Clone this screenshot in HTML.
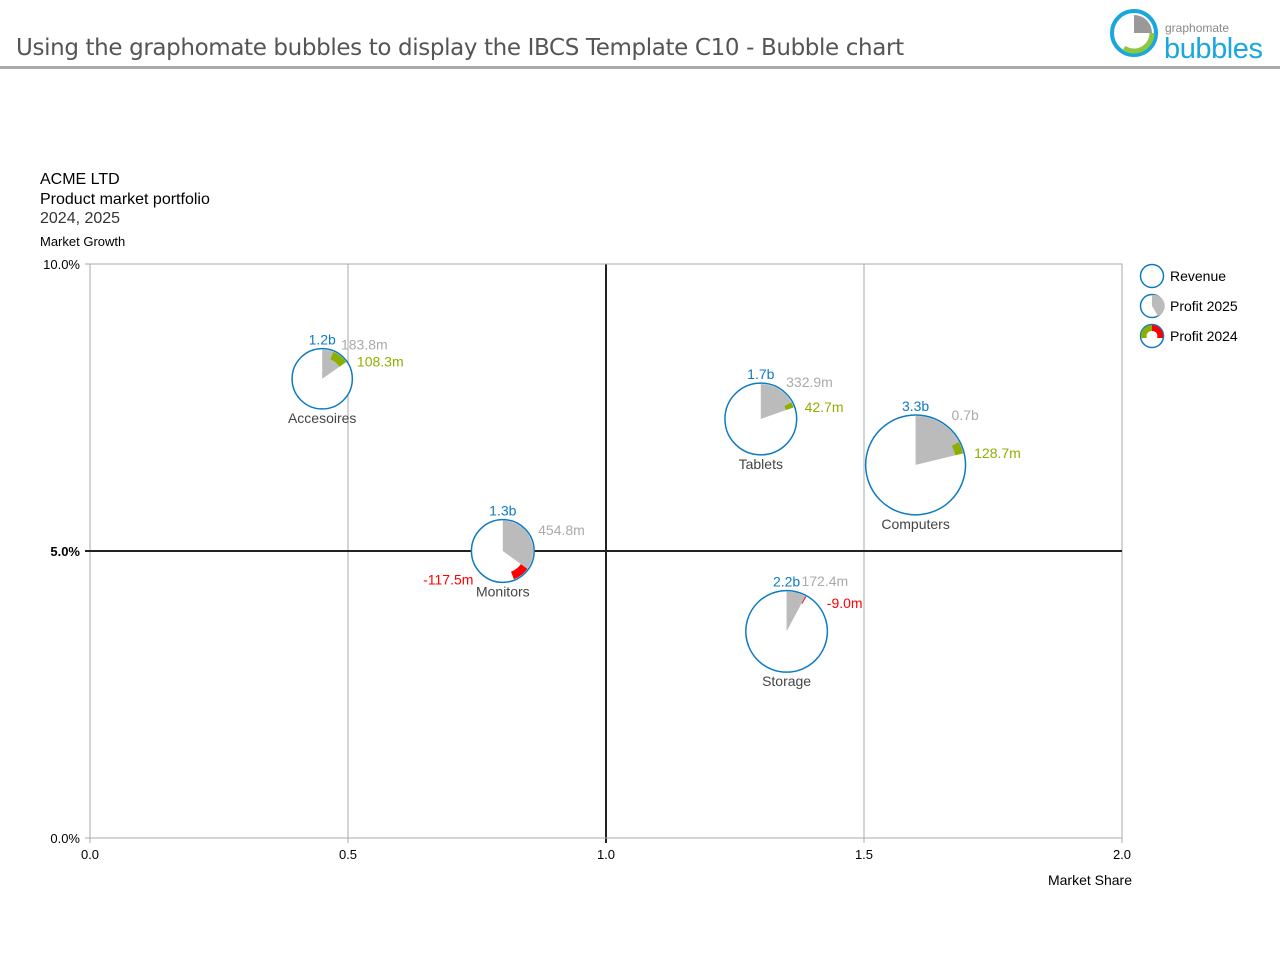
<!DOCTYPE html>
<html><head><meta charset="utf-8"><style>
body{margin:0;background:#fff;width:1280px;height:960px;overflow:hidden;font-family:"Liberation Sans",sans-serif}
svg text{font-family:"Liberation Sans",sans-serif}
</style></head><body>
<svg id="chart" width="1280" height="960" xmlns="http://www.w3.org/2000/svg">
<g>
<text x="16" y="55" font-size="23" fill="#555" letter-spacing="0.9" style="font-family:'DejaVu Sans',sans-serif" textLength="889">Using the graphomate bubbles to display the IBCS Template C10 - Bubble chart</text>
<rect x="0" y="66" width="1280" height="3" fill="#aaa"/>
<g>
<circle cx="1134" cy="33" r="22" fill="none" stroke="#1aa7de" stroke-width="4"/>
<path d="M1134,33 L1134,15 A18,18 0 0 1 1152,33 Z" fill="#999"/>
<path d="M1152,33 A18,18 0 0 1 1124,48" fill="none" stroke="#8dc63f" stroke-width="5"/>
<text x="1165" y="32" font-size="12" fill="#888">graphomate</text>
<text x="1164" y="58" font-size="29" fill="#1aa7de" textLength="99">bubbles</text>
</g>
</g>
<g>
<text x="40" y="184" font-size="16" fill="#000">ACME LTD</text>
<text x="40" y="204" font-size="16" fill="#000">Product market portfolio</text>
<text x="40" y="223" font-size="16" fill="#333">2024, 2025</text>
<text x="40" y="246" font-size="13" fill="#000">Market Growth</text>
<text x="1132" y="885" font-size="14" fill="#000" text-anchor="end">Market Share</text>
</g>
<g id="grid"></g>
<g id="bubbles"></g>
<g>
<g><circle cx="1152" cy="276" r="11.5" fill="#fff" stroke="#0d7bc4" stroke-width="1.5"/><text x="1170" y="281" font-size="14" fill="#000">Revenue</text></g>
<g><circle cx="1152" cy="306" r="11.5" fill="#fff" stroke="#0d7bc4" stroke-width="1.5"/><path d="M1152,306 L1152,295 A11,11 0 0 1 1158,316 Z" fill="#bbb"/><text x="1170" y="311" font-size="14" fill="#000">Profit 2025</text></g>
<g><circle cx="1152" cy="336" r="11.5" fill="#fff" stroke="#0d7bc4" stroke-width="1.5"/><path d="M1152,325 A11,11 0 0 1 1163,338 L1157,338 A5,5 0 0 0 1152,331 Z" fill="#f00"/><path d="M1152,325 A11,11 0 0 0 1141,338 L1147,338 A5,5 0 0 1 1152,331 Z" fill="#8db000"/><text x="1170" y="341" font-size="14" fill="#000">Profit 2024</text></g>
</g>
</svg>
<script>
const categories=["Accesoires","Monitors","Tablets","Computers","Storage"];
const marketShare=[0.45,0.80,1.30,1.60,1.35];
const marketGrowth=[8.0,5.0,7.3,6.5,3.6];
const revenue=[1.2,1.3,1.7,3.3,2.2]; // billions
const profit2025=[183.8,454.8,332.9,700,172.4]; // millions
const profit2024=[108.3,-117.5,42.7,128.7,-9.0];
const revenueLabels=["1.2b","1.3b","1.7b","3.3b","2.2b"];
const profit2025Labels=["183.8m","454.8m","332.9m","0.7b","172.4m"];
const profit2024Labels=["108.3m","-117.5m","42.7m","128.7m","-9.0m"];
const xTicks=[0,0.5,1.0,1.5,2.0];
const xTickLabels=["0.0","0.5","1.0","1.5","2.0"];
const yTicks=[0,5,10];
const yTickLabels=["0.0%","5.0%","10.0%"];

const NS="http://www.w3.org/2000/svg";
const X0=90,X1=1122,Y0=838,Y1=264;
const xs=v=>X0+(v-0)/(2-0)*(X1-X0);
const ys=v=>Y0-(v-0)/(10-0)*(Y0-Y1);
const rs=v=>27.5*Math.sqrt(v);
function mk(tag,attrs,parent){const e=document.createElementNS(NS,tag);for(const k in attrs)e.setAttribute(k,attrs[k]);parent.appendChild(e);return e;}
const grid=document.getElementById('grid');
const bub=document.getElementById('bubbles');
mk('rect',{x:X0,y:Y1,width:X1-X0,height:Y0-Y1,fill:'none',stroke:'#aaa','stroke-width':1},grid);
xTicks.forEach((t,i)=>{
  const x=xs(t);
  const l=mk('line',{x1:x,x2:x,y1:Y1,y2:Y0+5,stroke:t===1?'#222':'#aaa','stroke-width':t===1?2:1},grid);
  
  
  const tx=mk('text',{x:x,y:Y0+21,'font-size':13,'text-anchor':'middle',fill:'#000'},grid);
  tx.textContent=xTickLabels[i];
  
  
});
yTicks.forEach((t,i)=>{
  const y=ys(t);
  const l=mk('line',{x1:X0-5,x2:X1,y1:y,y2:y,stroke:t===5?'#222':'#aaa','stroke-width':t===5?2:1},grid);
  
  
  const tx=mk('text',{x:X0-10,y:y+5,'font-size':13,'text-anchor':'end',fill:'#000','font-weight':t===5?'bold':'normal'},grid);
  tx.textContent=yTickLabels[i];
  
  
});
function pt(cx,cy,r,a){const rad=a*Math.PI/180;return [cx+r*Math.sin(rad),cy-r*Math.cos(rad)];}
function sector(cx,cy,r,a0,a1){const p0=pt(cx,cy,r,a0),p1=pt(cx,cy,r,a1);const lg=(a1-a0)>180?1:0;return `M${cx},${cy} L${p0[0]},${p0[1]} A${r},${r} 0 ${lg} 1 ${p1[0]},${p1[1]} Z`;}
function band(cx,cy,r,ri,a0,a1){const p0=pt(cx,cy,r,a0),p1=pt(cx,cy,r,a1),q1=pt(cx,cy,ri,a1),q0=pt(cx,cy,ri,a0);const lg=(a1-a0)>180?1:0;return `M${p0[0]},${p0[1]} A${r},${r} 0 ${lg} 1 ${p1[0]},${p1[1]} L${q1[0]},${q1[1]} A${ri},${ri} 0 ${lg} 0 ${q0[0]},${q0[1]} Z`;}
categories.forEach((c,i)=>{
  const cx=xs(marketShare[i]),cy=ys(marketGrowth[i]),r=rs(revenue[i]);
  const g=mk('g',{},bub);
  
  
  mk('circle',{cx:cx,cy:cy,r:r,fill:'#fff',stroke:'#0d7bc4','stroke-width':1.5},g);
  const a=profit2025[i]/(revenue[i]*1000)*360;
  mk('path',{d:sector(cx,cy,r-1,0,a),fill:'#bbb'},g);
  const d=Math.abs(profit2024[i])/(revenue[i]*1000)*360;
  const pos=profit2024[i]>=0;
  const b0=pos?a-d:a,b1=pos?a:a+d;
  mk('path',{d:band(cx,cy,r-1,r-9,b0,b1),fill:pos?'#8db000':'#f00'},g);
  const t1=mk('text',{x:cx,y:cy-r-4,'font-size':14,'text-anchor':'middle',fill:'#0d7bc4'},g);
  t1.textContent=revenueLabels[i];
  
  
  const gx=a>90?cx+r+4:cx+r*Math.sin(a*Math.PI/180)*0.72+1;
  const gy=cy-r+(a-55)*0.2-4+5;
  const t2=mk('text',{x:gx,y:gy,'font-size':14,fill:'#aaa'},g);
  t2.textContent=profit2025Labels[i];
  
  
  let px,py,anchor='start';
  if(pos){const p=pt(cx,cy,r,a);px=p[0]+10;py=p[1]+5;}
  else if(b1>90){px=cx-r+2;py=cy+r-3+5;anchor='end';}
  else{const p=pt(cx,cy,r,b1);px=p[0]+20;py=p[1]+12;}
  const t3=mk('text',{x:px,y:py,'font-size':14,fill:pos?'#8db000':'#f00','text-anchor':anchor},g);
  t3.textContent=profit2024Labels[i];
  
  
  const t4=mk('text',{x:cx,y:cy+r+14,'font-size':14,'text-anchor':'middle',fill:'#444'},g);
  t4.textContent=c;
  
  
});
</script>
</body></html>
